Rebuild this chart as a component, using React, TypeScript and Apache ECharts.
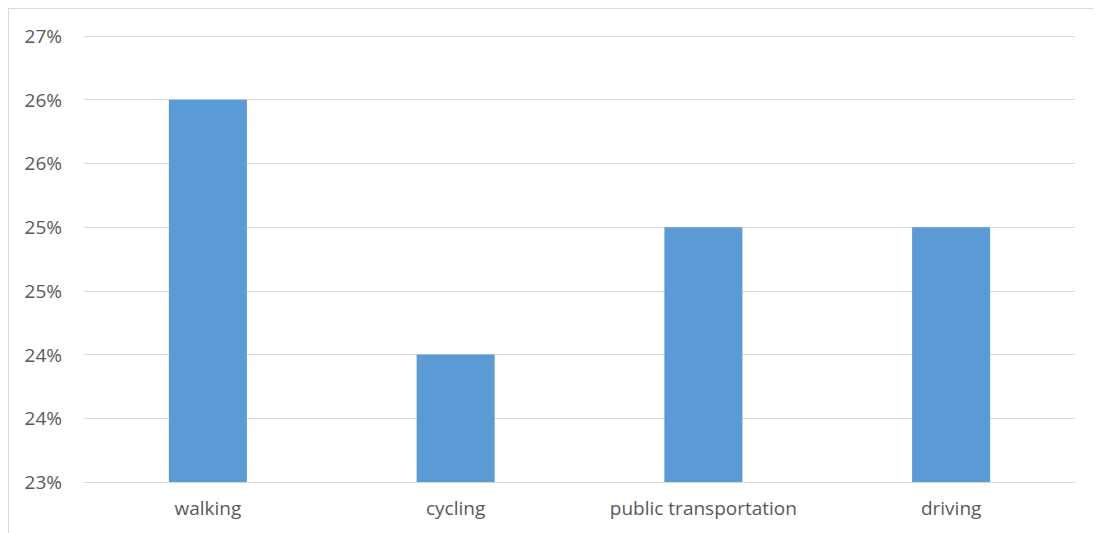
import React, { useEffect, useRef } from "react";
import * as echarts from "echarts";

const categories = ["walking", "cycling", "public transportation", "driving"];
const shares = [26, 24, 25, 25];
const axisMin = 23;
const axisMax = 26.5;
const axisStep = 0.5;

export default function App() {
  const ref = useRef<HTMLDivElement>(null);

  useEffect(() => {
    document.body.style.overflow = "hidden";
    if (!ref.current) return;
    const chart = echarts.init(ref.current, undefined, { renderer: "svg" });
    const font = "'Open Sans', sans-serif";
    chart.setOption({
      animation: false,
      backgroundColor: "#ffffff",
      grid: { left: 75, right: 23, top: 27, bottom: 43, containLabel: false },
      xAxis: {
        type: "category",
        data: categories,
        axisLine: { show: true, lineStyle: { color: "#d9d9d9", width: 1 } },
        axisTick: { show: false },
        axisLabel: { color: "#595959", fontSize: 19, fontFamily: font, margin: 16 },
      },
      yAxis: {
        type: "value",
        min: axisMin,
        max: axisMax,
        interval: axisStep,
        axisLine: { show: false },
        axisTick: { show: false },
        splitLine: { lineStyle: { color: "#d9d9d9", width: 1 } },
        axisLabel: {
          color: "#595959",
          fontSize: 19,
          fontFamily: font,
          margin: 22,
          formatter: (v: number) => `${Math.round(v)}%`,
        },
      },
      series: [
        {
          type: "bar",
          data: shares,
          barWidth: "31.5%",
          itemStyle: { color: "#5b9bd5" },
        },
      ],
    });
    return () => chart.dispose();
  }, []);

  return (
    <div
      style={{
        width: 1091,
        height: 530,
        boxSizing: "border-box",
        borderTop: "1px solid #d9d9d9",
        borderLeft: "1px solid #d9d9d9",
        borderRight: "1px solid #d9d9d9",
        background: "#fff",
      }}
    >
      <div ref={ref} style={{ width: 1089, height: 516 }} />
    </div>
  );
}
